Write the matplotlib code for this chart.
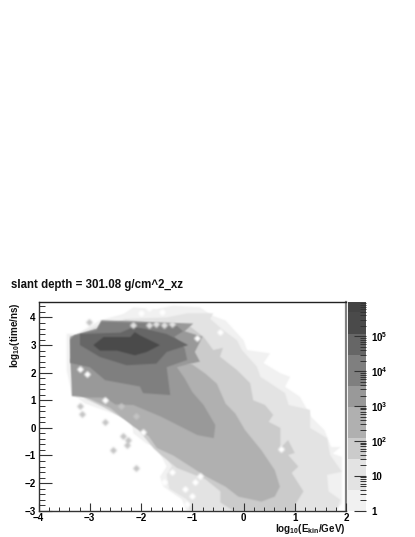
import matplotlib
matplotlib.use("Agg")
import matplotlib.pyplot as plt
import numpy as np
from matplotlib.ticker import FixedLocator, NullFormatter

plt.rcParams['font.family'] = ['Liberation Sans', 'DejaVu Sans']
plt.rcParams['font.weight'] = 'bold'
plt.rcParams['mathtext.fontset'] = 'custom'
plt.rcParams['mathtext.bf'] = 'Liberation Sans:bold'
plt.rcParams['mathtext.rm'] = 'Liberation Sans:bold'
plt.rcParams['mathtext.default'] = 'bf'

title = "slant depth = 301.08 g/cm^2_xz"
xlabel = r"log$_{10}$(E$_{kin}$/GeV)"
ylabel = r"log$_{10}$(time/ns)"

level_edges = [1, 3.9, 30, 122, 940, 3900, 30000, 120000, 500000, 950000]
level_colors = ['#f1f1f1', '#e3e3e3', '#cbcbcb', '#b0b0b0', '#999999',
                '#7f7f7f', '#666666', '#4a4a4a', '#444444']

region_1 = [(-1.11, -3), (-1.2, -2.6), (-1.56, -2.13), (-1.63, -1.77), (-1.5, -1.4), (-1.69, -.69),
            (-1.89, -.57), (-2.15, -.2), (-2.18, .28), (-2.73, .64), (-3.09, .88), (-3.35, 1.24),
            (-3.45, 2.08), (-3.45, 3.41), (-3.25, 3.41), (-2.8, 3.9), (-2.34, 4.13), (-2.15, 4.37),
            (-1.7, 4.3), (-1.37, 4.43), (-.85, 4.37), (-.61, 4.07), (-.35, 3.89), (-.0, 3.18), (.07, 2.82),
            (.52, 2.7), (.39, 2.35), (.72, 1.98), (.91, 1.85), (.81, 1.49), (1.1, 1.13), (1.32, .4),
            (1.58, -.08), (1.71, -.69), (1.9, -.69), (1.74, -.93), (1.92, -1.05), (1.92, -2.73), (1.81, -3)]
region_2 = [(-1.05, -3), (-1.1, -2.6), (-1.45, -2.2), (-1.5, -1.7), (-1.4, -1.4), (-1.6, -.7),
            (-2.0, -.2), (-2.1, .4), (-2.7, .75), (-3.05, 1.0), (-3.3, 1.3), (-3.38, 2.1), (-3.38, 3.3),
            (-2.8, 3.75), (-2.3, 3.95), (-1.5, 4.0), (-1.1, 4.15), (-.59, 4.15), (-.65, 3.95),
            (-.4, 3.55), (-.13, 3.18), (-.03, 2.82), (.26, 2.22), (.33, 1.85), (.52, 1.62), (.81, 1.26),
            (.88, .83), (1.3, .65), (1.3, 0), (1.63, -.37), (1.69, -.98), (1.92, -1.59), (1.63, -1.7),
            (1.66, -2.3), (1.89, -2.6), (1.82, -3)]
region_3 = [(-.2, -3), (-.45, -2.7), (-.45, -2.3), (-.75, -1.85), (-1.3, -1.45), (-1.6, -1.0),
            (-1.75, -.75), (-1.95, -.3), (-2.12, .1), (-2.7, .72), (-3.3, 1.3), (-3.38, 3.3),
            (-2.3, 3.9), (-1.04, 3.67), (-.78, 3.3), (-.59, 2.82), (-.4, 2.9), (-.46, 2.58),
            (-.13, 2.1), (.13, 1.62), (.19, 1.0), (.42, .83), (.58, .47), (.49, .22), (.72, 0),
            (.72, -.73), (.87, -.44), (1.0, -.91), (.87, -.98), (1.07, -1.4), (.94, -1.63),
            (1.17, -2.3), (1.0, -2.8), (1.03, -3)]
region_4 = [(-.74, 1.96), (-.52, 1.6), (-.35, .88), (-.16, .52), (.03, -.08), (.35, -.81), (.61, -1.53),
            (.71, -2.13), (.61, -2.49), (.35, -2.67), (-.1, -2.49), (-.35, -2.13), (-.74, -1.75),
            (-1.37, -1.0), (-1.69, -.73), (-1.85, -.3), (-2.15, .05), (-2.6, .72), (-3.3, 1.3),
            (-3.38, 2.5), (-1.4, 2.45), (-1.0, 2.3)]
region_5 = [(-.78, .83), (-.55, .1), (-.58, -.37), (-.9, -.26), (-1.6, .4), (-2.15, .83), (-2.5, .85),
            (-2.7, 1.1), (-3.0, 1.1), (-3.35, 1.15), (-3.38, 3.3), (-2.86, 3.6), (-2.77, 3.9),
            (-.98, 3.78), (-1.15, 3.5), (-.8, 3.3), (-.95, 2.75), (-.85, 2.4), (-1.1, 2.3),
            (-1.3, 2.2), (-1.15, 1.8), (-1.0, 1.3)]
region_6 = [(-3.38, 3.2), (-3.3, 3.35), (-2.86, 3.55), (-2.77, 3.85), (-1.9, 3.8), (-1.3, 3.7),
            (-1.18, 3.5), (-1.35, 3.3), (-1.15, 2.9), (-1.1, 2.46), (-1.5, 2.2), (-1.43, 1.19),
            (-1.96, 1.26), (-2.02, 1.5), (-2.7, 1.73), (-3.0, 2.2), (-3.38, 2.35)]
region_7 = [(-3.19, 3.0), (-3.19, 3.4), (-2.4, 3.45), (-2.15, 3.65), (-1.95, 3.6), (-1.5, 3.4),
            (-1.08, 3.0), (-1.5, 2.75), (-1.7, 2.33), (-2.28, 2.27), (-2.8, 2.57)]
region_8 = [(-2.93, 3.0), (-2.73, 3.29), (-2.21, 3.29), (-2.12, 3.47), (-2.02, 3.35), (-1.63, 3.0),
            (-1.89, 2.75), (-2.12, 2.63), (-2.47, 2.8), (-2.8, 2.8)]

regions = [region_1, region_2, region_3, region_4, region_5, region_6, region_7, region_8]

white_x = [-3.2, -3.05, -2.7, -1.96, -1.0, -1.4, -.85, -.95, -1.55,
           -1.1, -.45, -.91, .73, -1.3, -1.15, -2.0, -1.6, -1.85]
white_y = [2.15, 1.95, 1.0, -.15, -2.45, -1.6, -1.75, -1.95, -1.95,
           -2.75, 3.48, 3.25, -.78, -2.6, -2.2, 4.15, 4.2, 4.35]

pale_x = [-2.15, -1.85, -1.7, -1.55, -1.4]
pale_y = [3.73, 3.72, 3.75, 3.72, 3.75]

spot_x = [-3.02, -3.15, -3.2, -2.7, -2.4, -2.55, -2.1, -2.35, -2.25, -2.28, -2.1]
spot_y = [3.85, .5, .8, .2, .8, -.8, -1.45, -.3, -.45, -.62, .42]


def soften(image, dpi):
    """Blur only the coverage of a flat-coloured artist, so its edge stays free of halos."""
    kernel = np.array([1.0, 2.0, 1.0])
    kernel /= kernel.sum()
    pad = 3
    padded = np.pad(image, ((pad, pad), (pad, pad), (0, 0)))
    alpha = padded[..., 3]
    solid = alpha > 0.5 * alpha.max()
    colour = np.median(padded[solid][:, :3], axis=0)
    for axis in (0, 1):
        alpha = np.apply_along_axis(lambda v: np.convolve(v, kernel, mode='same'), axis, alpha)
    padded[..., :3] = colour
    padded[..., 3] = alpha
    return padded, -pad, -pad


fig = plt.figure(figsize=(4.15, 5.37), dpi=100)
W, H = 415, 537
ax = fig.add_axes([38.5 / W, 1 - 510.7 / H, (346 - 38.5) / W, (510.7 - 302.3) / H])
ax.set_xlim(-4, 2)
ax.set_ylim(-3, 4.55)
ax.set_facecolor('white')

for region, colour in zip(regions, level_colors):
    xs, ys = zip(*region)
    patch = ax.fill(xs, ys, color=colour, lw=0, zorder=2)[0]
    patch.set_agg_filter(soften)

marks = [
    ax.scatter(white_x, white_y, marker='D', s=13, c='white', linewidths=0, zorder=5),
    ax.scatter(pale_x, pale_y, marker='D', s=14, c='#e2e2e2', linewidths=0, zorder=5),
    ax.scatter(spot_x, spot_y, marker='D', s=13, c='#c4c4c4', linewidths=0, zorder=5),
]
for m in marks:
    m.set_agg_filter(soften)

for s in ['left', 'bottom']:
    ax.spines[s].set_color('#333333')
    ax.spines[s].set_linewidth(1.0)
ax.spines['right'].set_color('#808080')
ax.spines['right'].set_linewidth(1.6)
ax.spines['top'].set_color('#222222')
ax.spines['top'].set_linewidth(1.0)
ax.spines['top'].set_linestyle((0, (1, 1)))

x_major = [-4, -3, -2, -1, 0, 1, 2]
y_major = [-3, -2, -1, 0, 1, 2, 3, 4]
ax.set_xticks(x_major)
ax.set_yticks(y_major)
ax.xaxis.set_minor_locator(FixedLocator([-4 + 0.2 * i for i in range(31)]))
ax.yaxis.set_minor_locator(FixedLocator([-3 + 0.2 * i for i in range(38)]))
ax.tick_params(which='major', axis='x', direction='in', length=6, width=0.8, color='#333333',
               labelsize=7, pad=2)
ax.tick_params(which='major', axis='y', direction='in', length=9, width=0.8, color='#333333',
               labelsize=7, pad=2)
ax.tick_params(which='minor', axis='x', direction='in', length=3, width=0.7, color='#333333')
ax.tick_params(which='minor', axis='y', direction='in', length=4.5, width=0.7, color='#333333')
ax.set_axisbelow(False)

fig.text(346 / W, 1 - 529 / H, xlabel, ha='right', va='center', fontsize=7.1, color='#111111')
fig.text(15 / W, 1 - 302 / H, ylabel, rotation=90, ha='center', va='top', fontsize=7.1, color='#111111')
fig.text(11 / W, 1 - 285 / H, title, ha='left', va='center', fontsize=8.3, color='#111111')

cax = fig.add_axes([347.7 / W, 1 - 510.7 / H, (365.7 - 347.7) / W, (510.7 - 302.3) / H])
cax.set_yscale('log')
cax.set_ylim(1, 950000)
cax.set_xlim(0, 1)
for lo, hi, colour in zip(level_edges[:-1], level_edges[1:], level_colors):
    cax.axhspan(lo, hi, color=colour, lw=0)
for s in cax.spines.values():
    s.set_visible(False)
cax.set_xticks([])
cax.yaxis.tick_right()
c_major = [1, 10, 100, 1000, 10000, 100000]
c_labels = ['1', '10', '$10^{2}$', '$10^{3}$', '$10^{4}$', '$10^{5}$']
cax.yaxis.set_major_locator(FixedLocator(c_major))
cax.set_yticklabels(c_labels)
c_minor = [m * 10 ** e for e in range(6) for m in range(2, 10) if m * 10 ** e < 950000]
cax.yaxis.set_minor_locator(FixedLocator(c_minor))
cax.yaxis.set_minor_formatter(NullFormatter())
cax.tick_params(which='major', axis='y', direction='in', length=9, width=0.8, color='#333333',
                labelsize=7, pad=4)
cax.tick_params(which='minor', axis='y', direction='in', length=4.5, width=0.7, color='#333333')

fig.savefig('out.png', dpi=100)
